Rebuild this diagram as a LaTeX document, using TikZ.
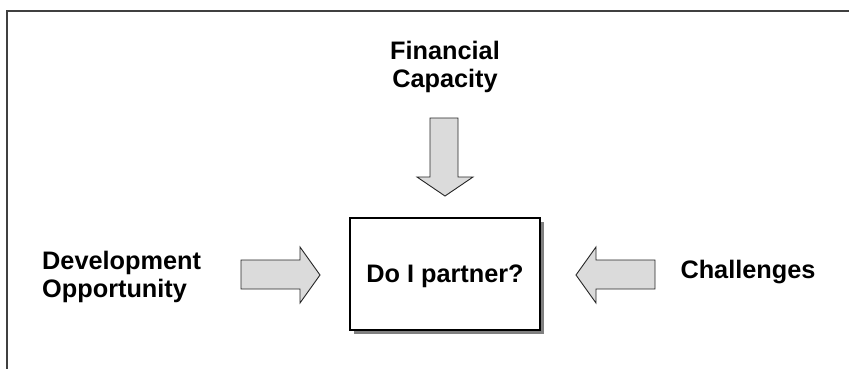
\documentclass[tikz,border=0pt]{standalone}
\usepackage{fontspec}
\setmainfont{Liberation Sans}
\usetikzlibrary{shadows}
\begin{document}
\begin{tikzpicture}[x=1pt,y=-1pt,
  frame/.style={draw=black!75,line width=1.4pt},
  label/.style={font=\bfseries\fontsize{25.3}{27.5}\selectfont,inner sep=0pt,text=black},
  decisionbox/.style={draw=black,line width=1.3pt,fill=white,minimum width=190pt,minimum height=112pt,inner sep=0pt,text depth=0pt,
    drop shadow={shadow xshift=4pt,shadow yshift=-4pt,fill=black!50,opacity=1}},
  blockarrow/.style={draw=black!85,line width=0.9pt,fill=black!14,line join=miter}]
\useasboundingbox (0,0) rectangle (849,368);
\fill[white] (0,0) rectangle (849,368);
% open frame
\draw[frame] (7,369) -- (7,11) -- (850,11);
% labels
\node[label,align=center] (fin) at (445,67) {Financial\\Capacity};
\node[label,align=left,anchor=west] (dev) at (42,277) {Development\\Opportunity};
\node[label,anchor=base] (chal) at (748,278) {Challenges};
% central box
\node[label,decisionbox] (box) at (445,274) {Do I partner?};
% block arrows
\draw[blockarrow] (430,118) -- (458,118) -- (458,177) -- (473,177) -- (445,196) -- (417,177) -- (430,177) -- cycle;
\draw[blockarrow] (241,260) -- (300,260) -- (300,247) -- (320,275) -- (300,303) -- (300,289) -- (241,289) -- cycle;
\draw[blockarrow] (655,260) -- (596,260) -- (596,247) -- (576,275) -- (596,303) -- (596,289) -- (655,289) -- cycle;
\end{tikzpicture}
\end{document}
